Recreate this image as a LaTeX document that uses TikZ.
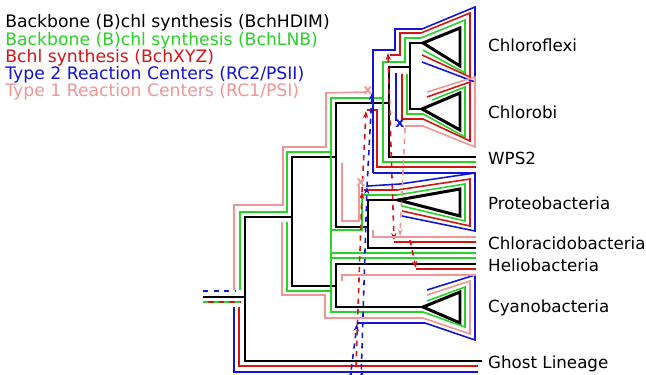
\documentclass[tikz,border=0pt]{standalone}
\usepackage{fontspec}
\setmainfont{DejaVu Sans}
\usetikzlibrary{arrows.meta}
\definecolor{lnb}{RGB}{40,210,40}
\definecolor{xyz}{RGB}{215,20,20}
\definecolor{rctwo}{RGB}{20,20,215}
\definecolor{rcone}{RGB}{240,150,150}

\begin{document}
\begin{tikzpicture}[x=0.02cm, y=-0.02cm,
  tree/.style={line width=1.7pt, black},
  gline/.style={line width=0.9pt, lnb},
  rline/.style={line width=0.9pt, xyz},
  bline/.style={line width=0.9pt, rctwo},
  pline/.style={line width=0.9pt, rcone},
  hgt/.style={dashed, -{Stealth[length=4pt]}},
  lab/.style={anchor=west, font=\fontsize{9.5}{11}\selectfont},
  leg/.style={anchor=west, inner sep=0pt, font=\fontsize{9.8}{12}\selectfont},
  loss/.style={font=\fontsize{8}{8}\selectfont\bfseries, inner sep=0pt},
]
\useasboundingbox (0,0) rectangle (646,375);

% legend
\node[leg] (leg1) at (5,23) {Backbone (B)chl synthesis (BchHDIM)};
\node[leg, text=lnb] (leg2) at (5,41) {Backbone (B)chl synthesis (BchLNB)};
\node[leg, text=xyz] (leg3) at (5,58) {Bchl synthesis (BchXYZ)};
\node[leg, text=rctwo] (leg4) at (5,75) {Type 2 Reaction Centers (RC2/PSII)};
\node[leg, text=rcone] (leg5) at (5,92) {Type 1 Reaction Centers (RC1/PSI)};

% taxa
\node[lab] (chfx) at (482,45) {Chloroflexi};
\node[lab] (chlb) at (482,112) {Chlorobi};
\node[lab] (wps) at (482,158) {WPS2};
\node[lab] (prot) at (482,203) {Proteobacteria};
\node[lab] (chac) at (482,243) {Chloracidobacteria};
\node[lab] (hel) at (482,265) {Heliobacteria};
\node[lab] (cyan) at (482,308) {Cyanobacteria};
\node[lab] (ghost) at (482,364) {Ghost Lineage};

% species tree
\draw[tree] (203,297) -- (245,297);
\draw[tree] (292,217) -- (245,217) -- (245,361) -- (482,361);
\draw[tree] (336,157) -- (292,157) -- (292,286) -- (336,286);
\draw[tree] (389,103) -- (336,103) -- (336,227) -- (368,227);
\draw[tree] (410,67) -- (389,67) -- (389,157) -- (476,157);
\draw[tree] (423,43) -- (410,43) -- (410,109) -- (422,109);
\draw[tree] (398,200) -- (368,200) -- (368,248) -- (476,248);
\draw[tree] (476,264) -- (336,264) -- (336,307) -- (423,307);
\draw[tree, line join=miter] (423,43) -- (460,28) -- (460,66) -- cycle;
\draw[tree, line join=miter] (422,109) -- (460,93) -- (460,130) -- cycle;
\draw[tree, line join=miter] (398,200) -- (460,189) -- (460,216) -- cycle;
\draw[tree, line join=miter] (423,307) -- (460,292) -- (460,323) -- cycle;

% BchLNB
\draw[gline] (240,290) -- (240,212) -- (287,212) -- (287,152) -- (331,152) -- (331,98)
  -- (383,98) -- (383,62) -- (405,62) -- (405,38) -- (421,38) -- (465,20) -- (465,73) -- (423,50);
\draw[gline] (432,100) -- (465,87) -- (465,137) -- (423,114) -- (407,114) -- (407,74);
\draw[gline] (383,98) -- (383,162) -- (476,162);
\draw[gline] (331,152) -- (331,230) -- (362,230) -- (362,195) -- (397,195) -- (465,184)
  -- (465,221) -- (402,206);
\draw[gline] (331,230) -- (331,312) -- (423,312) -- (465,327) -- (465,287) -- (427,301);
\draw[gline] (331,253) -- (476,253);
\draw[gline] (331,258) -- (476,258);
\draw[gline] (287,222) -- (287,291) -- (331,291);
\draw[gline, dashed] (203,302) -- (240,302);

% BchXYZ
\draw[rline] (390,55) -- (400,55) -- (400,33) -- (421,33) -- (470,13) -- (470,77) -- (422,55);
\draw[rline] (427,97) -- (470,82) -- (470,141) -- (423,119) -- (402,119) -- (402,74);
\draw[rline] (367,110) -- (377,110) -- (377,167) -- (476,167);
\draw[rline] (364,190) -- (397,190) -- (470,179) -- (470,226) -- (402,211);
\draw[rline] (394,242) -- (476,242);
\draw[rline] (416,269) -- (476,269);
\draw[rline] (239,307) -- (239,366) -- (478,366);
\draw[rline, dashed, dash phase=3pt] (203,302) -- (240,302);
\draw[rline, dashed, {Stealth[length=4pt]}-{Stealth[length=4pt]}] (388,53) -- (394,240);
\draw[rline, hgt] (410,240) -- (416,268);
\draw[rline, hgt] (356,367) -- (362,192);
\draw[rline, hgt] (362,192) -- (366,111);

% RC2
\draw[bline] (373,173) -- (373,50) -- (395,50) -- (395,29) -- (422,29) -- (475,7)
  -- (475,82) -- (422,62);
\draw[bline] (373,173) -- (475,173) -- (475,231) -- (402,216);
\draw[bline] (368,186) -- (400,184) -- (475,173);
\draw[bline] (396,73) -- (396,121);
\node[loss, text=rctwo] (lossb) at (400,124) {x};
\draw[bline] (357,323) -- (425,323) -- (475,340) -- (475,275) -- (427,290);
\draw[bline] (234,307) -- (234,372) -- (478,372);
\draw[bline, dashed] (203,291) -- (235,291);
\draw[bline, hgt] (350,380) -- (357,324);
\draw[bline, hgt] (361,380) -- (367,187);
\draw[bline, hgt] (367,187) -- (372,93);
\draw[bline, -{Stealth[length=4pt]}] (350.5,379) -- (351,371);
\draw[bline, -{Stealth[length=4pt]}] (361.5,379) -- (362,371);

% RC1
\draw[pline] (234,290) -- (234,205) -- (283,205) -- (283,147) -- (326,147) -- (326,93)
  -- (366,92);
\node[loss, text=rcone] (lossp) at (368,91) {x};
\draw[pline] (427,92) -- (475,77) -- (475,147) -- (423,126) -- (405,126);
\draw[pline] (342,163) -- (342,221) -- (359,221) -- (359,186);
\node[loss, text=rcone] (lossq) at (361,183) {x};
\draw[pline] (373,230) -- (373,237) -- (476,237);
\draw[pline] (342,281) -- (342,275) -- (476,275);
\draw[pline] (282,222) -- (282,295) -- (325,295) -- (325,318) -- (423,318) -- (470,334)
  -- (470,281) -- (427,295);
\draw[pline, hgt] (405,128) -- (400,236);
\end{tikzpicture}
\end{document}
